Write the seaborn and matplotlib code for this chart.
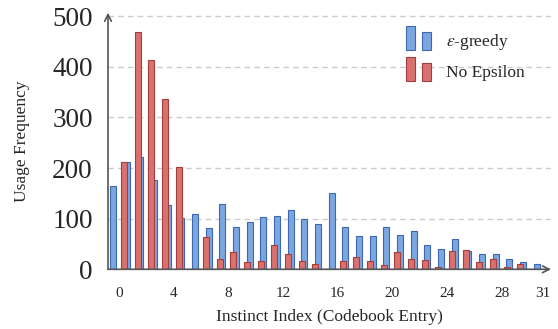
import numpy as np
import matplotlib
matplotlib.use("Agg")
import matplotlib.pyplot as plt
import seaborn as sns
from matplotlib.patches import Rectangle
from matplotlib.legend_handler import HandlerBase

# codebook entries and how often each one was used
entries = np.arange(32)
greedy = [165, 212, 221, 176, 127, 101, 109, 81, 130, 83, 94, 103, 105, 117, 100, 89,
          150, 84, 66, 66, 83, 67, 76, 49, 40, 59, 36, 30, 30, 20, 14, 10]
no_eps = [212, 468, 413, 337, 203, 1, 63, 21, 34, 15, 16, 49, 30, 16, 10, 1,
          16, 24, 16, 8, 34, 21, 18, 4, 36, 38, 15, 20, 5, 10, 0, 0]
x_ticks = [0, 4, 8, 12, 16, 20, 24, 28, 31]
y_ticks = [0, 100, 200, 300, 400, 500]
series_names = ["$\\varepsilon$-greedy", "No Epsilon"]

blue_fc, blue_ec = "#7ba7e1", "#3d68ad"
red_fc, red_ec = "#d9716e", "#a43e3e"


class TwoBars(HandlerBase):
    # pgfplots style legend icon: two small bars
    def create_artists(self, legend, orig_handle, xdescent, ydescent, width, height, fontsize, trans):
        fc = orig_handle.get_facecolor()
        ec = orig_handle.get_edgecolor()
        w = width * 0.36
        x0 = -xdescent
        y0 = -ydescent - height * 0.35
        r1 = Rectangle((x0, y0), w, height * 2.0, facecolor=fc, edgecolor=ec, lw=0.8, transform=trans)
        r2 = Rectangle((x0 + width - w, y0), w, height * 1.5, facecolor=fc, edgecolor=ec, lw=0.8, transform=trans)
        return [r1, r2]


sns.set_theme(style="white")
plt.rcParams["font.family"] = ["Liberation Serif", "DejaVu Serif"]
plt.rcParams["mathtext.fontset"] = "stix"

fig = plt.figure(figsize=(5.58, 3.29), dpi=100)
ax = fig.add_axes([108 / 558, (329 - 269.3) / 329, 443 / 558, 256.6 / 329])

sns.barplot(x=entries - 0.44, y=greedy, native_scale=True, width=0.44, color=blue_fc,
            edgecolor=blue_ec, linewidth=0.8, saturation=1, errorbar=None, ax=ax)
sns.barplot(x=entries + 0.365, y=no_eps, native_scale=True, width=0.44, color=red_fc,
            edgecolor=red_ec, linewidth=0.8, saturation=1, errorbar=None, ax=ax)

ax.set_xlim(-0.8, 31.6)
ax.set_ylim(0, 507)
ax.set_xticks(x_ticks)
ax.set_xticklabels([str(t) for t in x_ticks])
ax.set_yticks(y_ticks)
ax.tick_params(axis="y", labelsize=19.5, pad=11, length=0)
ax.tick_params(axis="x", labelsize=11, pad=13, length=0)
ax.yaxis.grid(True, linestyle=(0, (4, 3)), color="#cccccc", linewidth=1)
ax.set_axisbelow(True)
for s in ax.spines.values():
    s.set_visible(False)

arrow = dict(arrowstyle="->", color="#555555", lw=1.2, shrinkA=0, shrinkB=0)
ax.annotate("", xy=(0, 1), xytext=(0, 0), xycoords="axes fraction", arrowprops=arrow, annotation_clip=False)
ax.annotate("", xy=(1, 0), xytext=(0, 0), xycoords="axes fraction", arrowprops=arrow, annotation_clip=False)

ax.set_xlabel("Instinct Index (Codebook Entry)", fontsize=12.5, labelpad=6)
ax.set_ylabel("Usage Frequency", fontsize=12.5, labelpad=16)

handles = [Rectangle((0, 0), 1, 1, facecolor=blue_fc, edgecolor=blue_ec),
           Rectangle((0, 0), 1, 1, facecolor=red_fc, edgecolor=red_ec)]
fig.legend(handles, series_names, loc="upper left", bbox_to_anchor=(390 / 558, 1 - 16 / 329),
           frameon=False, fontsize=12.5, handler_map={Rectangle: TwoBars()},
           handlelength=1.45, handleheight=0.7, handletextpad=0.9, labelspacing=0.75)

fig.savefig("out.png", dpi=100)
